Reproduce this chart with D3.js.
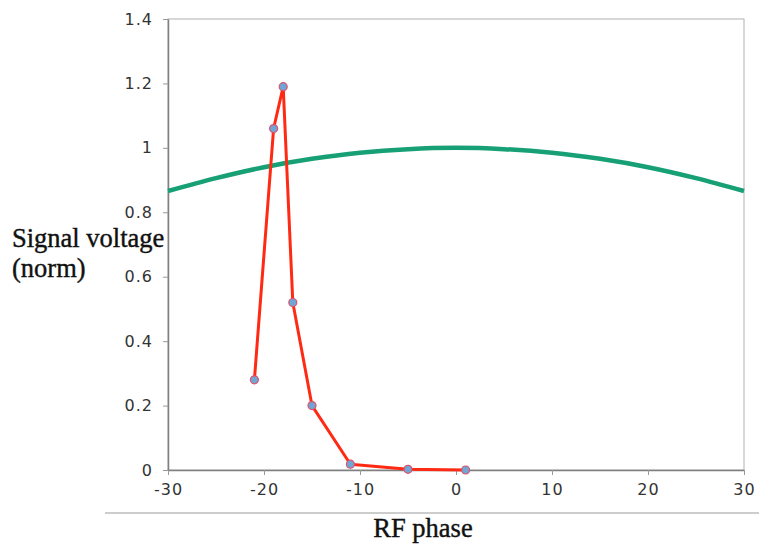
<!DOCTYPE html>
<html>
<head>
<meta charset="utf-8">
<script src="https://cdn.jsdelivr.net/npm/d3@7"></script>
<style>
  body { margin: 0; background: #fff; }
  .tick text { font-family: "DejaVu Sans", Verdana, sans-serif; font-size: 16px; fill: #333; letter-spacing: 1px; }
  .lbl { font-family: "Liberation Serif", "Times New Roman", serif; font-size: 26.5px; fill: #111; stroke: #111; stroke-width: 0.4px; }
</style>
</head>
<body>
<div id="chart"></div>
<script>
// data
const phase = [-21, -19, -18, -17, -15, -11, -5, 1];
const signal = [0.28, 1.06, 1.19, 0.52, 0.2, 0.018, 0.002, 0];
const rfPhase = [-30, -25, -20, -15, -10, -5, 0, 5, 10, 15, 20, 25, 30];
const rfWave = [0.866, 0.906, 0.94, 0.966, 0.985, 0.996, 1, 0.996, 0.985, 0.966, 0.94, 0.906, 0.866];
const xTicks = [-30, -20, -10, 0, 10, 20, 30];
const yTicks = [0, 0.2, 0.4, 0.6, 0.8, 1, 1.2, 1.4];

const margin = {top: 19, right: 15, bottom: 74, left: 168},
    width = 759 - margin.left - margin.right,
    height = 544 - margin.top - margin.bottom;

const root = d3.select("#chart")
  .append("svg")
    .attr("width", 759)
    .attr("height", 544);
const svg = root.append("g")
    .attr("transform", `translate(${margin.left},${margin.top})`);

const x = d3.scaleLinear().domain([-30, 30]).range([0, width]);
const y = d3.scaleLinear().domain([0, 1.4]).range([height, 0]);

// frame
svg.append("rect")
  .attr("width", width).attr("height", height)
  .attr("fill", "none").attr("stroke", "#b0b0b0").attr("stroke-width", 1);

// axes
const xAxis = svg.append("g")
  .attr("transform", `translate(0,${height})`)
  .call(d3.axisBottom(x).tickValues(xTicks).tickFormat(d => String(d)).tickSizeInner(5).tickSizeOuter(0).tickPadding(9));
const yAxis = svg.append("g")
  .call(d3.axisLeft(y).tickValues(yTicks).tickFormat(d => String(d)).tickSizeInner(5).tickSizeOuter(0).tickPadding(10));
[xAxis, yAxis].forEach(a => {
  a.select(".domain").attr("stroke", "#808080").attr("stroke-width", 1.5);
  a.selectAll(".tick line").attr("stroke", "#999");
});

// rf wave
const line = d3.line().x(d => x(d[0])).y(d => y(d[1]));
svg.append("path")
  .datum(rfPhase.map((p, i) => [p, rfWave[i]]))
  .attr("fill", "none")
  .attr("stroke", "#17a075")
  .attr("stroke-width", 4.5)
  .attr("d", line.curve(d3.curveMonotoneX));

// signal
const pts = phase.map((p, i) => [p, signal[i]]);
svg.append("path")
  .datum(pts)
  .attr("fill", "none")
  .attr("stroke", "#ff2a14")
  .attr("stroke-width", 3)
  .attr("stroke-linejoin", "round")
  .attr("d", d3.line().x(d => x(d[0])).y(d => y(d[1])));
svg.selectAll(".pt")
  .data(pts)
  .join("circle")
    .attr("cx", d => x(d[0]))
    .attr("cy", d => y(d[1]))
    .attr("r", 4)
    .attr("fill", "#6fa6d6")
    .attr("stroke", "#e0506a")
    .attr("stroke-width", 1.2);

// separator line below the axis labels
root.append("line")
  .attr("x1", 105).attr("x2", 759)
  .attr("y1", 513).attr("y2", 513)
  .attr("stroke", "#9a9a9a").attr("stroke-width", 1);

// labels
root.append("text").attr("class", "lbl")
  .attr("x", 423).attr("y", 537).attr("text-anchor", "middle")
  .text("RF phase");
root.append("text").attr("class", "lbl")
  .attr("x", 12).attr("y", 247)
  .text("Signal voltage");
root.append("text").attr("class", "lbl")
  .attr("x", 12).attr("y", 277)
  .text("(norm)");
</script>
</body>
</html>
